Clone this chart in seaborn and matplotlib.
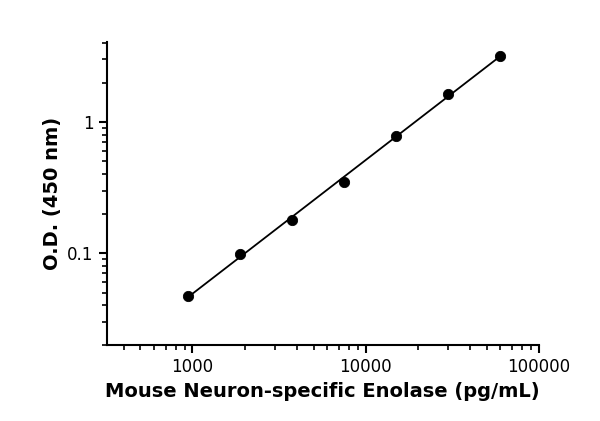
import matplotlib.pyplot as plt
import seaborn as sns
import numpy as np
from matplotlib.ticker import LogLocator, NullFormatter, FixedLocator, FixedFormatter

sns.set_theme(style="ticks")
plt.rcParams['font.family'] = ['DejaVu Sans']

# Standard curve data
concentration = [938, 1875, 3750, 7500, 15000, 30000, 60000]
od_450 = [0.047, 0.098, 0.18, 0.35, 0.78, 1.65, 3.2]

fig = plt.figure(figsize=(6, 4.21), dpi=100)
ax = fig.add_axes([0.178, 0.181, 0.72, 0.72])

# log-log linear fit through the standards
slope, intercept = np.polyfit(np.log10(concentration), np.log10(od_450), 1)
xfit = np.logspace(np.log10(concentration[0]), np.log10(concentration[-1]), 100)
ax.plot(xfit, 10 ** (intercept + slope * np.log10(xfit)), color="black", linewidth=1.3)
sns.scatterplot(x=concentration, y=od_450, ax=ax, color="black", s=55, edgecolor="black", zorder=3)

ax.set_xscale("log")
ax.set_yscale("log")
ax.set_xlim(320, 100000)
ax.set_ylim(0.02, 4.1)

ax.xaxis.set_major_locator(FixedLocator([1000, 10000, 100000]))
ax.xaxis.set_major_formatter(FixedFormatter(["1000", "10000", "100000"]))
ax.xaxis.set_minor_locator(LogLocator(base=10, subs=np.arange(2, 10)))
ax.xaxis.set_minor_formatter(NullFormatter())
ax.yaxis.set_major_locator(FixedLocator([0.1, 1]))
ax.yaxis.set_major_formatter(FixedFormatter(["0.1", "1"]))
ax.yaxis.set_minor_locator(LogLocator(base=10, subs=np.arange(2, 10)))
ax.yaxis.set_minor_formatter(NullFormatter())

for side in ["top", "right"]:
    ax.spines[side].set_visible(False)
for side in ["left", "bottom"]:
    ax.spines[side].set_linewidth(1.5)
    ax.spines[side].set_color("black")

ax.tick_params(which="major", length=6, width=1.5, color="black", labelsize=12, labelcolor="black")
ax.tick_params(which="minor", length=3.5, width=1.2, color="black")

ax.set_xlabel("Mouse Neuron-specific Enolase (pg/mL)", fontsize=14, fontweight="bold", color="black")
ax.set_ylabel("O.D. (450 nm)", fontsize=14, fontweight="bold", color="black")

fig.savefig("out.png", dpi=100)
